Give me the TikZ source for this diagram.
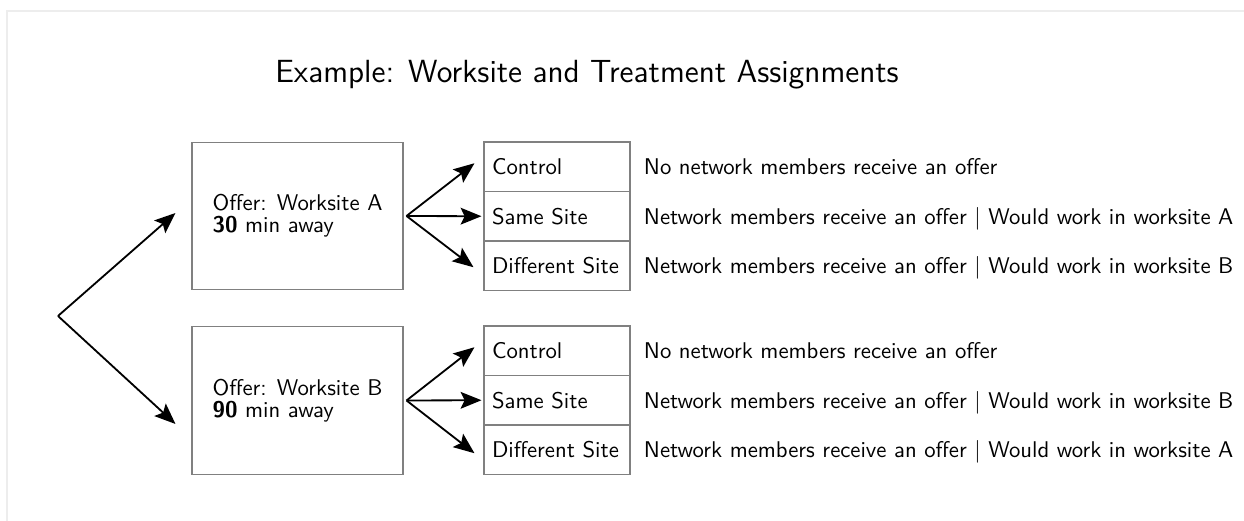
\documentclass[tikz,border=0pt]{standalone}
\usetikzlibrary{arrows.meta,calc}
\begin{document}
\begin{tikzpicture}[x=0.44pt,y=-0.44pt,
  font=\sffamily,
  frameline/.style={draw=black!7, line width=0.5pt},
  offerbox/.style={draw=black!50, line width=0.45pt, minimum width=92.84pt,
    minimum height=65.1pt, align=left, inner sep=0pt,
    font=\sffamily\fontsize{10pt}{9.8pt}\selectfont},
  cell/.style={draw=black!50, line width=0.45pt, minimum width=64.24pt,
    minimum height=21.78pt, inner xsep=3.52pt, inner ysep=0pt,
    text width=57.2pt, align=left, text height=6.9pt, text depth=0pt},
  descr/.style={anchor=west, inner sep=0pt, text height=6.9pt, text depth=0pt},
  arr/.style={-{Stealth[length=9.2pt,width=7.4pt,inset=1.8pt]}, line width=0.8pt},
]
\useasboundingbox (0,0) rectangle (1244,521);
% faint outer frame
\draw[frameline] (7,521) -- (7,11) -- (1244,11);

% title
\node[anchor=base, font=\sffamily\fontsize{14.1pt}{17pt}\selectfont] (title) at (587,83)
  {Example: Worksite and Treatment Assignments};

% worksite offers
\node[offerbox] (boxA) at (297.5,216) {Offer: Worksite A\\\textbf{30} min away};
\node[offerbox] (boxB) at (297.5,400.5) {Offer: Worksite B\\\textbf{90} min away};

% treatment tables
\node[cell] (a1) at (557,166.75) {Control};
\node[cell] (a2) at (557,216.25) {Same Site};
\node[cell] (a3) at (557,265.75) {Different Site};
\node[cell] (b1) at (557,350.75) {Control};
\node[cell] (b2) at (557,400.25) {Same Site};
\node[cell] (b3) at (557,449.75) {Different Site};

% descriptions
\node[descr] (da1) at (643.5,166.75) {No network members receive an offer};
\node[descr] (da2) at (643.5,216.25) {Network members receive an offer $|$ Would work in worksite A};
\node[descr] (da3) at (643.5,265.75) {Network members receive an offer $|$ Would work in worksite B};
\node[descr] (db1) at (643.5,350.75) {No network members receive an offer};
\node[descr] (db2) at (643.5,400.25) {Network members receive an offer $|$ Would work in worksite B};
\node[descr] (db3) at (643.5,449.75) {Network members receive an offer $|$ Would work in worksite A};

% split point
\coordinate (root) at (58,316);
\draw[arr] (root) -- ($(boxA.west)+(-16,-3)$);
\draw[arr] (root) -- ($(boxB.west)+(-16,23.5)$);

% branches to treatments
\draw[arr] ($(boxA.east)+(3,0)$) -- ($(a1.west)+(-9,-3.5)$);
\draw[arr] ($(boxA.east)+(3,0)$) -- ($(a2.west)+(-2,0)$);
\draw[arr] ($(boxA.east)+(3,0)$) -- ($(a3.west)+(-10,1.5)$);
\draw[arr] ($(boxB.east)+(3,0)$) -- ($(b1.west)+(-9,-3.5)$);
\draw[arr] ($(boxB.east)+(3,0)$) -- ($(b2.west)+(-2,0)$);
\draw[arr] ($(boxB.east)+(3,0)$) -- ($(b3.west)+(-9,3.5)$);
\end{tikzpicture}
\end{document}
